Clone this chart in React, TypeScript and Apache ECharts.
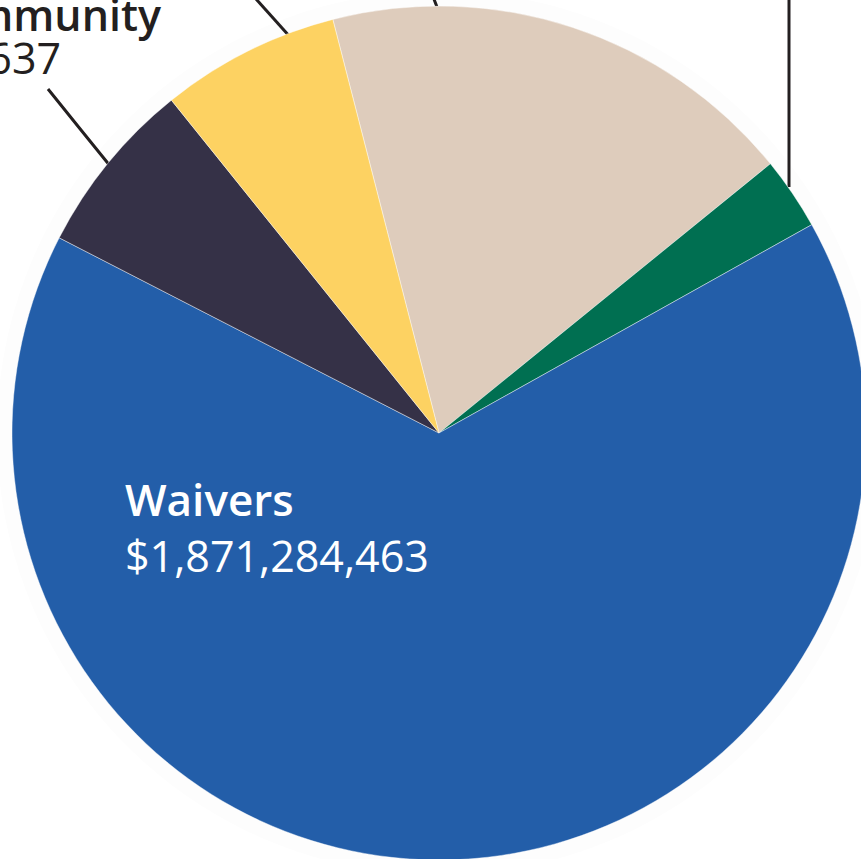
import React, { useEffect, useRef } from "react";
import * as echarts from "echarts";

const categories = [
  "Intermediate Care Facilities",
  "Targeted Case Management",
  "Waivers",
  "Home and Community",
  "State Plan Services",
];
const values = [516914250, 78366000, 1871284463, 189977637, 193150000];
const colors = ["#DECCBC", "#006F51", "#235EA9", "#353147", "#FDD262"];

const fmt = (v: number) => "$" + v.toLocaleString("en-US");

export default function App() {
  const ref = useRef<HTMLDivElement>(null);
  useEffect(() => {
    if (!ref.current) return;
    const chart = echarts.init(ref.current, null, { renderer: "svg" });
    const font = "'Open Sans', 'Noto Sans', sans-serif";
    const linePts: Record<number, number[][]> = {
      0: [[437, 7], [432, -6], [428, -20]],
      1: [[789, 187], [789, 80], [789, -20]],
      3: [[115, 172], [81, 130], [48, 89]],
      4: [[291, 38], [265, 9], [239, -20]],
    };
    const labelPos: Record<number, any> = {
      0: { x: 420, y: -110, align: "center", verticalAlign: "middle" },
      1: { x: 789, y: -230, align: "center", verticalAlign: "middle" },
      2: { x: 125, y: 527, align: "left", verticalAlign: "middle" },
      3: { x: -73, y: 36, align: "center", verticalAlign: "middle" },
      4: { x: 230, y: -350, align: "center", verticalAlign: "middle" },
    };
    chart.setOption({
      animation: false,
      backgroundColor: "#ffffff",
      series: [
        {
          type: "pie",
          silent: true,
          center: [439, 433],
          radius: [0, 442],
          z: 1,
          label: { show: false },
          labelLine: { show: false },
          itemStyle: { color: "#fdfdfd" },
          data: [{ value: 1, name: "halo" }],
        },
        {
          type: "pie",
          center: [439, 433],
          radius: [0, 427],
          startAngle: 104.4,
          clockwise: true,
          z: 2,
          avoidLabelOverlap: false,
          itemStyle: { borderColor: "rgba(255,255,255,0.6)", borderWidth: 0.7 },
          label: {
            show: true,
            position: "outside",
            formatter: (p: any) => `{b|${p.name}}\n{v|${fmt(p.value)}}`,
            rich: {
              b: { fontFamily: font, fontSize: 43, fontWeight: 600, color: "#231F20", lineHeight: 43 },
              v: { fontFamily: font, fontSize: 43, fontWeight: 400, color: "#231F20", lineHeight: 43 },
            },
          },
          labelLine: { show: true, lineStyle: { color: "#231F20", width: 3 } },
          labelLayout: (params: any) => {
            const i = params.dataIndex;
            const o: any = { ...labelPos[i] };
            if (linePts[i]) o.labelLinePoints = linePts[i];
            return o;
          },
          data: categories.map((name, i) => {
            const item: any = { name, value: values[i], itemStyle: { color: colors[i] } };
            if (name === "Waivers") {
              item.label = {
                position: "inside",
                rich: {
                  b: { fontFamily: font, fontSize: 44, fontWeight: 600, color: "#ffffff", lineHeight: 57 },
                  v: { fontFamily: font, fontSize: 43, fontWeight: 400, color: "#ffffff", lineHeight: 57 },
                },
              };
              item.labelLine = { show: false };
            }
            return item;
          }),
        },
      ],
    });
    return () => chart.dispose();
  }, []);
  return (
    <div
      ref={ref}
      style={{ position: "fixed", left: 0, top: 0, width: 861, height: 859, background: "#fff" }}
    />
  );
}
